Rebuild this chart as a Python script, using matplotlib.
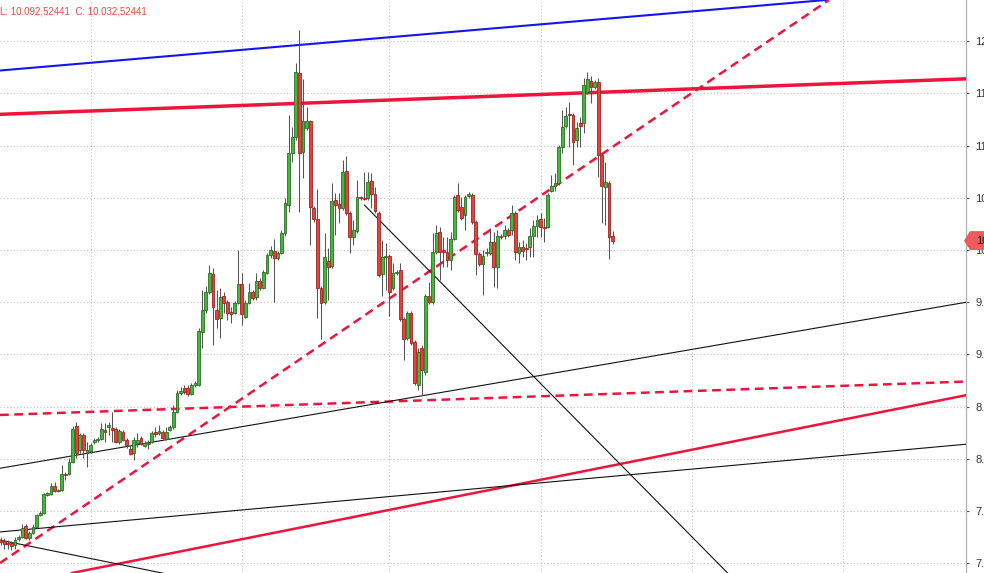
import matplotlib
matplotlib.use("Agg")
import matplotlib.pyplot as plt
import numpy as np
from matplotlib.patches import Polygon
from matplotlib.transforms import IdentityTransform

plt.rcParams['font.family'] = ['Liberation Sans', 'DejaVu Sans']

# ---------------- data (prices) ----------------
opens = [7.22, 7.21, 7.19, 7.19, 7.17, 7.23, 7.25, 7.36, 7.24, 7.29,
         7.35, 7.46, 7.48, 7.65, 7.66, 7.74, 7.69, 7.70, 7.85, 7.85,
         7.97, 8.31, 8.08, 8.23, 8.06, 8.07, 8.16, 8.18, 8.19, 8.27,
         8.30, 8.29, 8.29, 8.16, 8.26, 8.18, 8.09, 8.06, 8.15, 8.20,
         8.12, 8.14, 8.16, 8.25, 8.25, 8.26, 8.19, 8.28, 8.30, 8.45,
         8.63, 8.68, 8.68, 8.62, 8.71, 8.71, 9.21, 9.43, 9.60, 9.77,
         9.43, 9.35, 9.56, 9.50, 9.40, 9.40, 9.49, 9.67, 9.36, 9.49,
         9.60, 9.55, 9.70, 9.64, 9.78, 9.95, 9.99, 9.92, 9.97, 10.16,
         10.43, 10.93, 11.08, 11.70, 10.94, 11.17, 11.24, 10.40, 10.30, 9.64,
         9.50, 9.89, 9.85, 10.48, 10.44, 10.40, 10.76, 10.35, 10.12, 10.18,
         10.51, 10.50, 10.50, 10.66, 10.54, 10.35, 9.77, 9.93, 9.94, 9.64,
         9.78, 9.81, 9.34, 9.16, 9.40, 9.12, 8.71, 9.06, 8.83, 9.56,
         9.50, 9.98, 10.17, 10.00, 9.98, 9.90, 10.11, 10.53, 10.41, 10.34,
         10.52, 10.53, 10.27, 9.96, 9.87, 9.97, 9.97, 10.08, 9.84, 10.13,
         10.13, 10.19, 10.19, 10.35, 9.97, 10.03, 10.02, 10.03, 10.13, 10.23,
         10.30, 10.22, 10.22, 10.57, 10.61, 10.64, 10.99, 11.19, 11.30, 11.29,
         11.05, 11.22, 11.22, 11.51, 11.62, 11.56, 11.61, 10.91, 10.60, 10.64,
         10.13]
highs = [7.25, 7.24, 7.22, 7.21, 7.25, 7.27, 7.38, 7.38, 7.31, 7.38,
         7.47, 7.50, 7.67, 7.68, 7.77, 7.78, 7.71, 7.94, 7.87, 8.01,
         8.31, 8.35, 8.25, 8.25, 8.16, 8.15, 8.20, 8.21, 8.34, 8.34,
         8.35, 8.45, 8.30, 8.29, 8.28, 8.20, 8.13, 8.21, 8.25, 8.22,
         8.17, 8.18, 8.27, 8.30, 8.32, 8.28, 8.30, 8.32, 8.52, 8.66,
         8.69, 8.71, 8.71, 8.73, 8.75, 9.25, 9.62, 9.66, 9.86, 9.83,
         9.62, 9.64, 9.60, 9.52, 9.45, 9.51, 10.00, 9.78, 9.52, 9.68,
         9.62, 9.78, 9.73, 9.81, 9.97, 10.04, 10.11, 9.99, 10.19, 10.50,
         11.29, 11.18, 11.79, 12.11, 11.64, 11.37, 11.25, 10.42, 10.58, 9.66,
         10.16, 10.02, 10.64, 10.55, 10.55, 10.86, 10.90, 10.37, 10.29, 10.67,
         10.52, 10.75, 10.75, 10.74, 10.60, 10.37, 10.10, 10.07, 9.96, 9.88,
         9.81, 9.88, 9.36, 9.42, 9.42, 9.14, 9.06, 9.09, 9.58, 9.69,
         10.16, 10.24, 10.22, 10.12, 10.12, 10.17, 10.53, 10.64, 10.51, 10.53,
         10.56, 10.55, 10.29, 9.98, 10.00, 10.02, 10.21, 10.17, 10.19, 10.15,
         10.24, 10.21, 10.43, 10.37, 10.08, 10.10, 10.07, 10.21, 10.29, 10.34,
         10.35, 10.31, 10.55, 10.72, 10.74, 11.01, 11.34, 11.37, 11.42, 11.31,
         11.23, 11.27, 11.65, 11.71, 11.67, 11.63, 11.65, 10.93, 10.84, 10.66,
         10.18]
lows = [7.17, 7.14, 7.14, 7.13, 7.14, 7.21, 7.24, 7.23, 7.22, 7.28,
        7.34, 7.45, 7.47, 7.64, 7.65, 7.68, 7.68, 7.69, 7.80, 7.84,
        7.96, 8.01, 8.06, 8.01, 7.92, 8.06, 8.14, 8.16, 8.18, 8.16,
        8.23, 8.16, 8.15, 8.14, 8.17, 8.10, 8.04, 7.99, 8.11, 8.13,
        8.11, 8.09, 8.15, 8.21, 8.23, 8.19, 8.18, 8.27, 8.29, 8.44,
        8.61, 8.62, 8.60, 8.61, 8.69, 8.70, 9.06, 9.40, 9.58, 9.09,
        9.25, 9.16, 9.40, 9.33, 9.30, 9.39, 9.48, 9.28, 9.35, 9.48,
        9.52, 9.52, 9.62, 9.63, 9.77, 9.92, 9.50, 9.90, 9.96, 10.13,
        10.36, 10.84, 11.05, 10.36, 10.69, 11.15, 10.05, 10.27, 9.35, 9.15,
        9.48, 9.52, 9.83, 10.14, 10.26, 10.38, 10.34, 9.97, 10.05, 10.16,
        10.48, 10.48, 10.48, 10.40, 10.35, 9.74, 9.56, 9.62, 9.37, 9.62,
        9.76, 9.32, 8.95, 9.14, 9.09, 8.71, 8.66, 8.61, 8.80, 9.48,
        9.48, 9.96, 9.71, 9.84, 9.84, 9.81, 10.10, 10.36, 10.29, 10.19,
        10.50, 10.25, 9.76, 9.85, 9.57, 9.94, 9.95, 9.65, 9.64, 10.11,
        10.11, 10.12, 10.14, 9.90, 9.88, 9.93, 9.90, 9.93, 9.93, 10.12,
        10.12, 10.08, 10.21, 10.56, 10.57, 10.62, 10.93, 11.17, 10.99, 10.81,
        10.99, 10.99, 11.12, 11.49, 11.41, 11.54, 10.70, 10.26, 10.24, 9.91,
        10.06]
closes = [7.20, 7.18, 7.18, 7.16, 7.22, 7.25, 7.34, 7.24, 7.29, 7.35,
          7.46, 7.48, 7.66, 7.67, 7.74, 7.69, 7.70, 7.85, 7.84, 7.97,
          8.29, 8.06, 8.23, 8.08, 8.08, 8.13, 8.18, 8.19, 8.29, 8.26,
          8.32, 8.28, 8.16, 8.27, 8.18, 8.13, 8.05, 8.18, 8.18, 8.14,
          8.15, 8.15, 8.25, 8.24, 8.27, 8.20, 8.26, 8.30, 8.45, 8.63,
          8.65, 8.64, 8.62, 8.71, 8.73, 9.22, 9.43, 9.60, 9.78, 9.45,
          9.34, 9.55, 9.49, 9.40, 9.39, 9.49, 9.67, 9.39, 9.49, 9.60,
          9.54, 9.70, 9.64, 9.79, 9.95, 10.00, 9.92, 9.97, 10.16, 10.45,
          10.93, 11.08, 11.71, 10.93, 11.24, 11.24, 10.41, 10.30, 9.64, 9.49,
          9.93, 9.84, 10.47, 10.43, 10.40, 10.75, 10.35, 10.12, 10.19, 10.51,
          10.50, 10.49, 10.65, 10.54, 10.37, 9.76, 9.93, 9.94, 9.60, 9.78,
          9.79, 9.34, 9.15, 9.40, 9.11, 8.73, 9.02, 8.85, 9.56, 9.50,
          9.98, 10.16, 9.98, 9.98, 9.90, 10.11, 10.51, 10.38, 10.31, 10.51,
          10.54, 10.27, 9.96, 9.87, 9.94, 9.98, 10.08, 9.84, 10.13, 10.12,
          10.19, 10.14, 10.35, 9.98, 10.03, 9.99, 10.01, 10.13, 10.23, 10.29,
          10.22, 10.21, 10.53, 10.61, 10.64, 10.99, 11.18, 11.28, 11.29, 11.03,
          11.17, 11.19, 11.58, 11.64, 11.56, 11.61, 10.91, 10.61, 10.65, 10.12,
          10.09]

price_ticks = [7.0, 7.5, 8.0, 8.5, 9.0, 9.5, 10.0, 10.5, 11.0, 11.5, 12.0]
period_marks = [25, 67, 108, 150, 192, 234]   # vertical grid (bar index)
header_text = "L: 10.092,52441  C: 10.032,52441"

# trend lines: two points each (bar index, price)
blue_channel = [(0, 11.72), (268.3, 12.51)]
red_resistance = [(0, 11.30), (268.3, 11.64)]
red_dash_steep = [(0, 7.005), (268.3, 13.29)]
red_dash_flat = [(0, 8.42), (268.3, 8.74)]
red_support = [(0, 6.77), (268.3, 8.61)]
black_upper = [(0, 7.91), (268.3, 9.50)]
black_lower = [(0, 7.30), (268.3, 8.14)]
black_short = [(0, 7.22), (60, 6.80)]
black_fall = [(101.1, 10.43), (205, 6.80)]

# ---------------- figure ----------------
W, H = 984, 573
fig = plt.figure(figsize=(W / 100, H / 100), dpi=100)
fig.patch.set_facecolor('white')
ax = fig.add_axes([0, 0, 966 / W, 1])
ax.set_facecolor('white')

o = np.array(opens); h = np.array(highs); l = np.array(lows); c = np.array(closes)
x = np.arange(len(o))

ax.set_xlim(-0.15, -0.15 + 966 / 3.6)
ax.set_ylim(6.906, 12.395)

# grid
ax.set_yticks(price_ticks)
ax.set_yticklabels([f"{v:.1f}" for v in price_ticks])
ax.set_xticks(period_marks)
ax.set_xticklabels([])
ax.grid(True, linestyle=(0, (1, 2)), color='#c4c4c4', linewidth=0.8)
ax.set_axisbelow(True)

ax.yaxis.tick_right()
ax.tick_params(axis='y', direction='out', length=2.5, width=0.8, pad=4,
               labelsize=8, colors='#555555', labelcolor='#333333')
ax.tick_params(axis='x', length=0)
for s in ['left', 'top', 'bottom']:
    ax.spines[s].set_visible(False)
ax.spines['right'].set_color('#b0b0b0')
ax.spines['right'].set_linewidth(0.9)

# trend lines
def seg(pts):
    (x1, y1), (x2, y2) = pts
    return [x1, x2], [y1, y2]

ax.axline(*blue_channel, color='#1515ee', lw=1.5, zorder=3)
ax.axline(*red_resistance, color='#f0143c', lw=2.5, zorder=3)
ax.axline(*red_dash_steep, color='#f0143c', lw=1.8, ls=(0, (3.5, 2.2)), zorder=3)
ax.axline(*red_dash_flat, color='#f0143c', lw=1.8, ls=(0, (3.5, 2.2)), zorder=3)
ax.axline(*red_support, color='#f0143c', lw=1.8, zorder=3)
ax.axline(*black_upper, color='#111111', lw=0.8, zorder=3)
ax.axline(*black_lower, color='#111111', lw=0.8, zorder=3)
ax.plot(*seg(black_short), color='#111111', lw=0.8, zorder=3)
ax.plot(*seg(black_fall), color='#111111', lw=0.8, zorder=3)

# candles
up = c >= o
ax.vlines(x, l, h, color='#555555', lw=0.75, zorder=4)
body_bottom = np.minimum(o, c)
body_h = np.maximum(np.abs(c - o), 0.012)
ax.bar(x[up], body_h[up], bottom=body_bottom[up], width=0.78,
       color='#43b83a', edgecolor='#2c6e24', linewidth=0.6, zorder=5)
ax.bar(x[~up], body_h[~up], bottom=body_bottom[~up], width=0.78,
       color='#e8413c', edgecolor='#9e2420', linewidth=0.6, zorder=5)

# header
fig.text(-0.5 / W, 1 - 12 / H, header_text, color='#e64b4b', fontsize=7,
         ha='left', va='center')

# last-price marker
fig.canvas.draw()
yc = ax.transData.transform((0, c[-1]))[1]
pts = [(964, yc), (970, yc + 9.5), (990, yc + 9.5), (990, yc - 9.5), (970, yc - 9.5)]
marker = Polygon(pts, closed=True, facecolor='#ef5a5a', edgecolor='none',
                 transform=IdentityTransform(), zorder=10)
fig.add_artist(marker)
fig.text(976 / W, yc / H, f"{c[-1]:.2f}", color='#222222', fontsize=8,
         ha='left', va='center', zorder=11)

fig.savefig('out.png', dpi=100)
